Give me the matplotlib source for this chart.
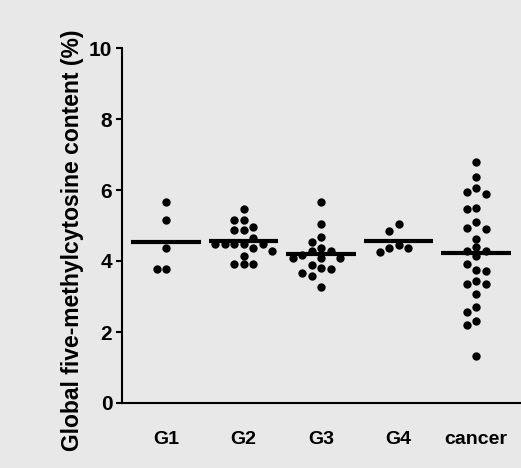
import matplotlib.pyplot as plt
import numpy as np

groups = ['G1', 'G2', 'G3', 'G4', 'cancer']
g1 = [5.66, 5.16, 4.37, 3.77, 3.77]
g2 = [5.46, 5.15, 5.15, 4.97, 4.87, 4.87, 4.66, 4.47, 4.47, 4.47, 4.47, 4.47,
      4.36, 4.28, 4.15, 3.91, 3.91, 3.91]
g3 = [5.66, 5.05, 4.67, 4.54, 4.36, 4.29, 4.29, 4.17, 4.08, 4.08, 4.08,
      3.89, 3.79, 3.77, 3.67, 3.58, 3.26]
g4 = [5.03, 4.85, 4.45, 4.36, 4.36, 4.25]
cancer = [6.80, 6.36, 6.05, 5.95, 5.89, 5.48, 5.46, 5.11, 4.92, 4.89, 4.63,
          4.39, 4.29, 4.29, 4.14, 3.91, 3.75, 3.72, 3.44, 3.35, 3.34, 3.06,
          2.70, 2.57, 2.32, 2.20, 1.33]
yticks = [0, 2, 4, 6, 8, 10]
ylabel = 'Global five-methylcytosine content (%)'

values = [g1, g2, g3, g4, cancer]

plt.rcParams['font.family'] = ['Liberation Sans', 'DejaVu Sans']
plt.rcParams['font.weight'] = 'bold'

bg = '#e8e8e8'
fig = plt.figure(figsize=(5.21, 4.68), dpi=100, facecolor=bg)
ax = fig.add_axes([122 / 521, 65 / 468, 399 / 521, 355 / 468])
ax.set_facecolor(bg)
ax.set_xlim(0.432, 5.58)
ax.set_ylim(0, 10)

# pixel scale of the data units, used for the swarm layout
px_x = 399 / (5.58 - 0.432)
px_y = 355 / 10


def swarm(vals, step=9.5, dist=8.5):
    placed = []
    offs = []
    for v in vals:
        vy = v * px_y
        for k in [0, -1, 1, -2, 2, -3, 3, -4, 4]:
            if all((k * step - a) ** 2 + (vy - b) ** 2 >= dist ** 2 for a, b in placed):
                break
        placed.append((k * step, vy))
        offs.append(k * step / px_x)
    return offs


for i, vals in enumerate(values):
    xc = i + 1
    offs = swarm(vals)
    ax.plot([xc + o for o in offs], vals, 'o', color='black', markersize=6,
            markeredgewidth=0, clip_on=False, zorder=3)
    ax.hlines(np.mean(vals), xc - 0.45, xc + 0.45, color='black', linewidth=3, zorder=4)

ax.spines['top'].set_visible(False)
ax.spines['right'].set_visible(False)
ax.spines['left'].set_linewidth(1.5)
ax.spines['bottom'].set_linewidth(1.5)

ax.set_yticks(yticks)
ax.set_yticklabels([str(t) for t in yticks], fontsize=15, fontweight='bold')
ax.tick_params(axis='y', direction='out', length=4, width=1.5, pad=3)

ax.set_xticks(range(1, len(groups) + 1))
ax.set_xticklabels(groups, fontsize=14, fontweight='bold')
ax.tick_params(axis='x', length=0, pad=20)

fig.text(73 / 521, 1 - 240 / 468, ylabel, rotation=90, fontsize=16.5,
         fontweight='bold', ha='center', va='center')

fig.savefig('out.png', dpi=100, facecolor=bg)
